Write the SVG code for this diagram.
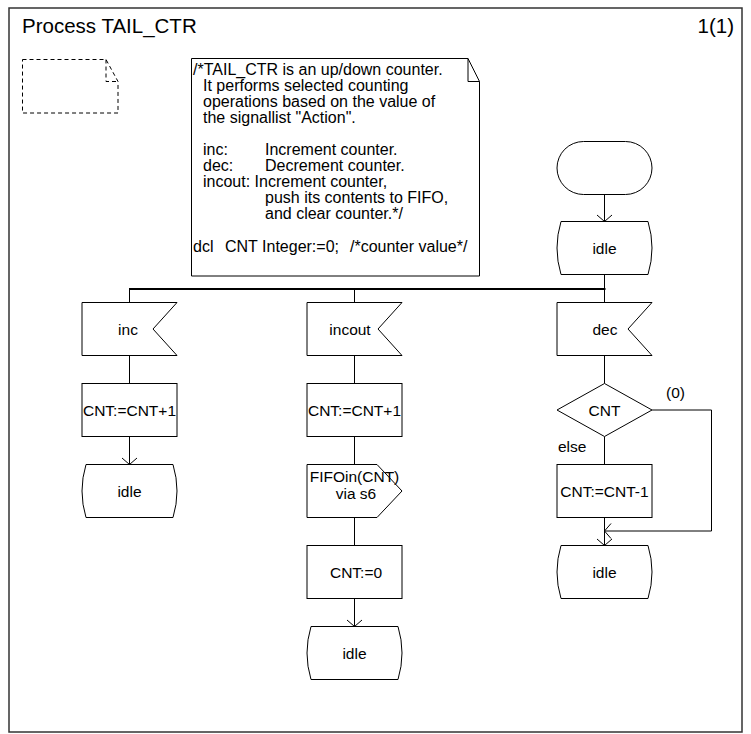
<svg xmlns="http://www.w3.org/2000/svg" width="751" height="734" viewBox="0 0 751 734">
<style>
.s{fill:#fff;stroke:#000;stroke-width:1}
.t{font-family:"Liberation Sans",Arial,Helvetica,sans-serif;font-size:15.5px;fill:#000}
.m{font-family:"Liberation Sans",Arial,Helvetica,sans-serif;font-size:16px;fill:#000}
.c{text-anchor:middle}
.ln{fill:none;stroke:#000;stroke-width:1}
</style>
<defs>
<marker id="arr" markerUnits="userSpaceOnUse" markerWidth="20" markerHeight="20" refX="10" refY="10" orient="auto" overflow="visible">
<path d="M3.5,2.5 L10,10 L3.5,17.5" fill="none" stroke="#000" stroke-width="1"/>
</marker>
</defs>
<rect x="0" y="0" width="751" height="734" fill="#fff"/>
<g id="frame">
<rect x="9" y="8" width="733" height="724" fill="none" stroke="#333" stroke-width="1.5"/>
<text x="22" y="33" style="font-family:'Liberation Sans',Arial,sans-serif;font-size:20.5px">Process TAIL_CTR</text>
<text x="734" y="33" text-anchor="end" style="font-family:'Liberation Sans',Arial,sans-serif;font-size:20.5px">1(1)</text>
</g>
<g id="pageicon">
<path d="M22.5,59.5 H106 L118,81.5 V113 H22.5 Z M106,59.5 V81.5 H118" fill="none" stroke="#000" stroke-width="1" stroke-dasharray="4,3"/>
</g>
<g id="comment">
<path class="s" d="M191.5,58.5 H468 L479.5,81.5 V276 H191.5 Z"/>
<path class="ln" d="M468,58.5 V81.5 H479.5"/>
<text class="m">
<tspan x="193" y="75">/*TAIL_CTR is an up/down counter.</tspan>
<tspan x="203" y="91">It performs selected counting</tspan>
<tspan x="203" y="107">operations based on the value of</tspan>
<tspan x="203" y="123">the signallist "Action".</tspan>
<tspan x="203" y="155">inc:</tspan><tspan x="265" y="155">Increment counter.</tspan>
<tspan x="203" y="171">dec:</tspan><tspan x="265" y="171">Decrement counter.</tspan>
<tspan x="203" y="187">incout: Increment counter,</tspan>
<tspan x="265" y="203">push its contents to FIFO,</tspan>
<tspan x="265" y="219">and clear counter.*/</tspan>
<tspan x="193" y="252">dcl</tspan><tspan x="225" y="252">CNT Integer:=0;</tspan><tspan x="350" y="252">/*counter value*/</tspan>
</text>
</g>
<g id="connectors">
<path class="ln" d="M604.5,194.5 V221.5" marker-end="url(#arr)"/>
<path class="ln" d="M604.5,274.5 V302.5"/>
<path d="M129,289 H605.5" fill="none" stroke="#000" stroke-width="2"/>
<path class="ln" d="M129.5,289 V302.5"/>
<path class="ln" d="M354.5,289 V302.5"/>
<path class="ln" d="M129.5,355.5 V383.5"/>
<path class="ln" d="M129.5,436.5 V464.5" marker-end="url(#arr)"/>
<path class="ln" d="M354.5,355.5 V383.5"/>
<path class="ln" d="M354.5,436.5 V464.5"/>
<path class="ln" d="M354.5,517.5 V545.5"/>
<path class="ln" d="M354.5,598.5 V626.5" marker-end="url(#arr)"/>
<path class="ln" d="M604.5,355.5 V383.5"/>
<path class="ln" d="M604.5,436.5 V464.5"/>
<path class="ln" d="M604.5,517.5 V545.5" marker-end="url(#arr)"/>
<path class="ln" d="M652,410 H711.5 V531 H604.5" marker-end="url(#arr)"/>
<text class="t" x="666" y="398">(0)</text>
<text class="t" x="558" y="452">else</text>
</g>
<g id="start">
<rect class="s" x="557" y="141.5" width="95" height="53" rx="26.5" ry="26.5"/>
</g>
<g id="idle_top">
<path class="s" d="M561,221.5 H648 Q656,248 648,274.5 H561 Q553,248 561,221.5 Z"/>
<text class="t c" x="604.5" y="253.5">idle</text>
</g>
<g id="inc">
<path class="s" d="M82,302.5 H177 L153,329 L177,355.5 H82 Z"/>
<text class="t c" x="128" y="334.5">inc</text>
</g>
<g id="inc_task">
<rect class="s" x="82" y="383.5" width="95" height="53"/>
<text class="t c" x="129.5" y="415.5">CNT:=CNT+1</text>
</g>
<g id="inc_idle">
<path class="s" d="M86,464.5 H173 Q181,491 173,517.5 H86 Q78,491 86,464.5 Z"/>
<text class="t c" x="129.5" y="496.5">idle</text>
</g>
<g id="incout">
<path class="s" d="M307,302.5 H402 L378,329 L402,355.5 H307 Z"/>
<text class="t c" x="350" y="334.5">incout</text>
</g>
<g id="incout_task">
<rect class="s" x="307" y="383.5" width="95" height="53"/>
<text class="t c" x="354.5" y="415.5">CNT:=CNT+1</text>
</g>
<g id="fifo_out">
<path class="s" d="M307,464.5 H377 L402,491 L377,517.5 H307 Z"/>
<text class="t c" x="354.5" y="481.5">FIFOin(CNT)</text>
<text class="t c" x="356" y="498.5">via s6</text>
</g>
<g id="clear_task">
<rect class="s" x="307" y="545.5" width="95" height="53"/>
<text class="t c" x="356" y="577.5">CNT:=0</text>
</g>
<g id="incout_idle">
<path class="s" d="M311,626.5 H398 Q406,653 398,679.5 H311 Q303,653 311,626.5 Z"/>
<text class="t c" x="354.5" y="658.5">idle</text>
</g>
<g id="dec">
<path class="s" d="M557,302.5 H652 L628,329 L652,355.5 H557 Z"/>
<text class="t c" x="605" y="334.5">dec</text>
</g>
<g id="dec_decision">
<path class="s" d="M604.5,383.5 L652,410 L604.5,436.5 L557,410 Z"/>
<text class="t c" x="604.5" y="415.5">CNT</text>
</g>
<g id="dec_task">
<rect class="s" x="557" y="464.5" width="95" height="53"/>
<text class="t c" x="604.5" y="496.5">CNT:=CNT-1</text>
</g>
<g id="dec_idle">
<path class="s" d="M561,545.5 H648 Q656,572 648,598.5 H561 Q553,572 561,545.5 Z"/>
<text class="t c" x="604.5" y="577.5">idle</text>
</g>
</svg>
